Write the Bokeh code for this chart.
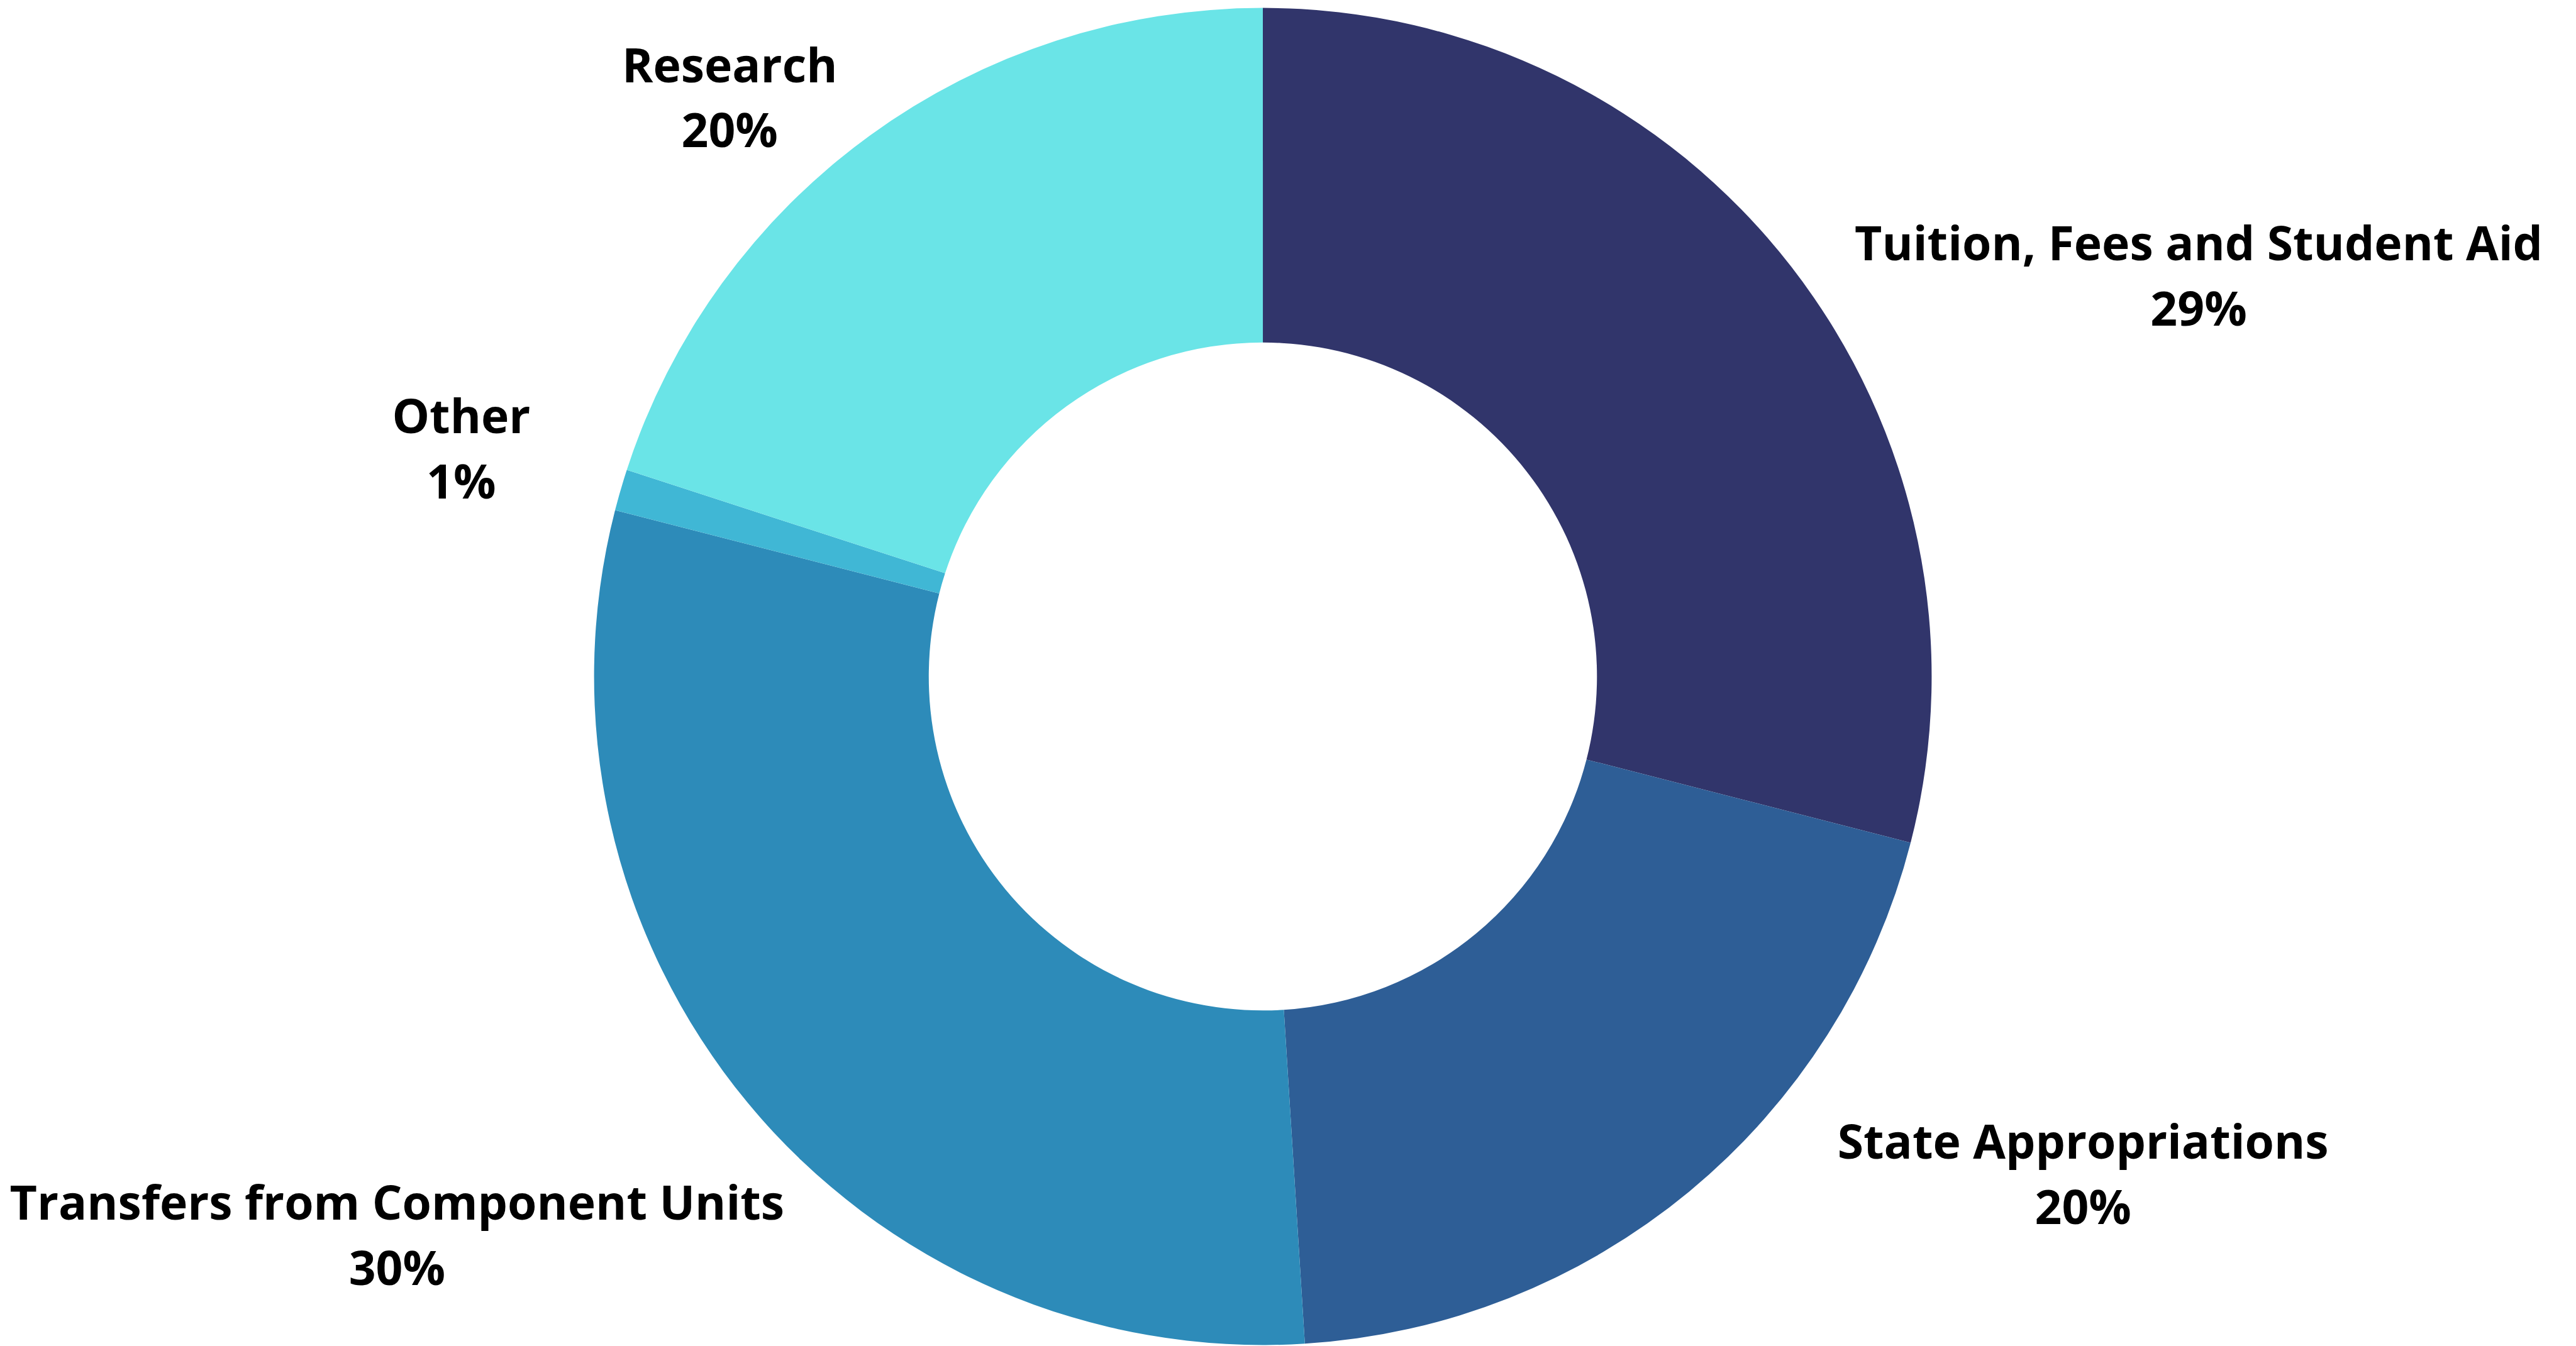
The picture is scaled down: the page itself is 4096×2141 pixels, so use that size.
import math
from bokeh.plotting import figure
from bokeh.models import ColumnDataSource, Range1d
from bokeh.core.properties import value
from bokeh.embed import file_html
from bokeh.resources import INLINE

# ---- data ----
categories = ["Tuition, Fees and Student Aid", "State Appropriations",
              "Transfers from Component Units", "Other", "Research"]
shares = [29, 20, 30, 1, 20]
colors = ["#31356B", "#2E5E96", "#2D8BB9", "#40B7D5", "#6AE4E7"]

# ---- layout (reference pixel units) ----
S = 0.932
W, H = 4090, 2140
CX, CY = 2154, 1154
R_OUT, R_IN = 1141, 570
LINE_GAP = 111
BASELINE_FIX = 30
# label offsets (dx, dy) from the slice's outer mid-point, first-line baseline
label_offsets = [(695, -12), (672, -57), (-598, 199), (-272, -98), (-239, -92)]

total = sum(shares)
starts, ends, mids = [], [], []
acc = 0.0
for v in shares:
    f0 = acc / total
    acc += v
    f1 = acc / total
    starts.append(math.pi / 2 - 2 * math.pi * f0)
    ends.append(math.pi / 2 - 2 * math.pi * f1)
    mids.append((f0 + f1) / 2)

src = ColumnDataSource(dict(cat=categories, start=starts, end=ends, color=colors))

lx, ly1, ly2, names, pcts = [], [], [], [], []
for c, v, m, (dx, dy) in zip(categories, shares, mids, label_offsets):
    th = 2 * math.pi * m
    px = CX + R_OUT * math.sin(th) + dx
    py = CY - R_OUT * math.cos(th) + dy - BASELINE_FIX
    lx.append(px)
    ly1.append(-py)
    ly2.append(-(py + LINE_GAP))
    names.append(c)
    pcts.append(f"{round(100 * v / total)}%")

p = figure(width=W, height=H, output_backend="svg", toolbar_location=None,
           x_range=Range1d(0, W / S), y_range=Range1d(-(H / S), 0),
           min_border=0, outline_line_color=None)
p.axis.visible = False
p.grid.visible = False
p.background_fill_color = "white"
p.border_fill_color = "white"

p.annular_wedge(x=CX, y=-CY, inner_radius=R_IN, outer_radius=R_OUT,
                start_angle="start", end_angle="end", direction="clock",
                fill_color="color", line_color=None, source=src)

lsrc = ColumnDataSource(dict(x=lx, y1=ly1, y2=ly2, name=names, pct=pcts))
for col_y, col_t in (("y1", "name"), ("y2", "pct")):
    p.text(x="x", y=col_y, text=col_t, source=lsrc,
           text_font=value("Open Sans"), text_font_style="bold",
           text_font_size="75px", text_color="#000000",
           text_align="center", text_baseline="alphabetic")

open("out.html", "w").write(file_html(p, INLINE))
